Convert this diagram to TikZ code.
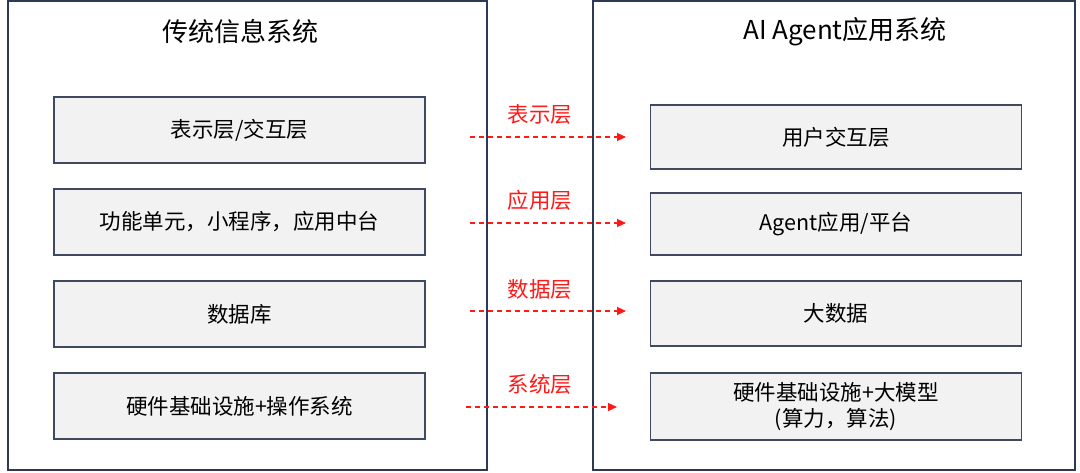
\documentclass[tikz,border=0pt]{standalone}
\usepackage{fontspec}
\setmainfont{Noto Sans CJK SC}
\usetikzlibrary{arrows.meta}
\definecolor{navy}{HTML}{2E3A55}
\definecolor{boxg}{HTML}{F2F2F2}
\definecolor{edg}{HTML}{3F4A5F}
\begin{document}
\begin{tikzpicture}[x=1pt,y=-1pt,
 outer/.style={draw=navy,line width=1.3pt},
 inner/.style={draw=edg,fill=boxg,line width=1.2pt,minimum height=66pt,minimum width=371pt,font=\fontsize{21.5}{26}\selectfont,align=center,inner sep=0pt},
 arr/.style={red!90,line width=1.2pt,dash pattern=on 5pt off 4pt,-{Triangle[length=9pt,width=8pt]}},
 lab/.style={text=red!90,font=\fontsize{21.5}{26}\selectfont}]
\useasboundingbox (0,0) rectangle (1080,472);
\fill[white] (0,0) rectangle (1080,472);
\draw[outer] (8,1) rectangle (487,470);
\draw[outer] (593,1) rectangle (1075,470);
\node[font=\fontsize{26}{30}\selectfont] (tl) at (240,32) {传统信息系统};
\node[font=\fontsize{26}{30}\selectfont] (tr) at (845,32) {AI Agent应用系统};
\node[inner] (l1) at (239.5,130) {表示层/交互层};
\node[inner] (l2) at (239.5,222) {功能单元，小程序，应用中台};
\node[inner] (l3) at (239.5,314) {数据库};
\node[inner] (l4) at (239.5,406) {硬件基础设施+操作系统};
\node[inner,minimum height=64pt] (r1) at (836,137) {用户交互层};
\node[inner,minimum height=62pt] (r2) at (836,224) {Agent应用/平台};
\node[inner,minimum height=65pt] (r3) at (836,313.5) {大数据};
\node[inner,minimum height=67pt] (r4) at (836,406.5) {硬件基础设施+大模型\\(算力，算法)};
\coordinate (a1) at (470,137); \coordinate (b1) at (626,137);
\coordinate (a2) at (470,223); \coordinate (b2) at (626,223);
\coordinate (a3) at (470,311); \coordinate (b3) at (626,311);
\coordinate (a4) at (466,407); \coordinate (b4) at (617,407);
\draw[arr] (a1) -- (b1); \draw[arr] (a2) -- (b2);
\draw[arr] (a3) -- (b3); \draw[arr] (a4) -- (b4);
\node[lab] (t1) at (540,114) {表示层};
\node[lab] (t2) at (540,200) {应用层};
\node[lab] (t3) at (540,289) {数据层};
\node[lab] (t4) at (540,384) {系统层};
\end{tikzpicture}
\end{document}
